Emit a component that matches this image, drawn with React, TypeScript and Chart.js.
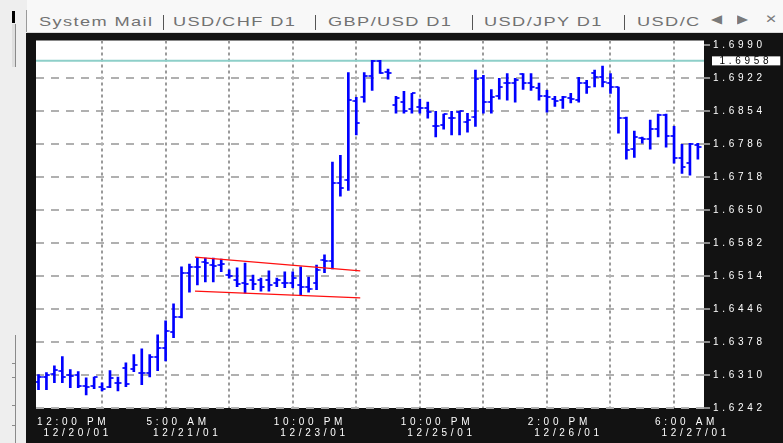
import React, { useEffect, useRef } from 'react';
import { Chart, registerables } from 'chart.js';

Chart.register(...registerables);

// ---- Data (hourly GBP/USD bars) ----
const barOpen = [
  1.6296, 1.6306, 1.6313, 1.6319, 1.6311, 1.6311, 1.6288, 1.6288, 1.6286, 1.6286,
  1.6294, 1.6325, 1.6323, 1.6315, 1.6315, 1.6348, 1.6366, 1.6399, 1.6430, 1.6521,
  1.6533, 1.6543, 1.6537, 1.6537, 1.6516, 1.6506, 1.6500, 1.6506, 1.6506, 1.6506,
  1.6500, 1.6500, 1.6500, 1.6496, 1.6492, 1.6500, 1.6547, 1.6545, 1.6706, 1.6712,
  1.6875, 1.6883, 1.6926, 1.6957, 1.6934, 1.6866, 1.6873, 1.6858, 1.6862, 1.6860,
  1.6823, 1.6825, 1.6840, 1.6852, 1.6831, 1.6842, 1.6922, 1.6873, 1.6885, 1.6912,
  1.6912, 1.6930, 1.6912, 1.6901, 1.6885, 1.6879, 1.6877, 1.6881, 1.6877, 1.6912,
  1.6932, 1.6924, 1.6912, 1.6904, 1.6840, 1.6776, 1.6799, 1.6796, 1.6817, 1.6846,
  1.6803, 1.6757, 1.6747, 1.6784,
];
const barHigh = [
  1.6311, 1.6315, 1.6329, 1.6348, 1.6321, 1.6317, 1.6304, 1.6306, 1.6294, 1.6319,
  1.6306, 1.6335, 1.6352, 1.6364, 1.6352, 1.6393, 1.6422, 1.6457, 1.6533, 1.6539,
  1.6553, 1.6551, 1.6551, 1.6549, 1.6527, 1.6531, 1.6541, 1.6516, 1.6510, 1.6525,
  1.6510, 1.6523, 1.6523, 1.6533, 1.6512, 1.6537, 1.6558, 1.6749, 1.6763, 1.6934,
  1.6883, 1.6934, 1.6959, 1.6959, 1.6941, 1.6885, 1.6895, 1.6891, 1.6879, 1.6873,
  1.6854, 1.6848, 1.6854, 1.6854, 1.6850, 1.6939, 1.6928, 1.6899, 1.6922, 1.6932,
  1.6922, 1.6932, 1.6932, 1.6912, 1.6897, 1.6885, 1.6885, 1.6891, 1.6924, 1.6918,
  1.6939, 1.6947, 1.6932, 1.6904, 1.6842, 1.6813, 1.6801, 1.6836, 1.6848, 1.6848,
  1.6823, 1.6786, 1.6788, 1.6788,
];
const barLow = [
  1.6280, 1.6280, 1.6294, 1.6294, 1.6284, 1.6284, 1.6269, 1.6282, 1.6277, 1.6284,
  1.6277, 1.6286, 1.6317, 1.6290, 1.6306, 1.6319, 1.6339, 1.6387, 1.6428, 1.6481,
  1.6496, 1.6502, 1.6502, 1.6523, 1.6510, 1.6492, 1.6479, 1.6486, 1.6483, 1.6483,
  1.6492, 1.6490, 1.6490, 1.6475, 1.6481, 1.6486, 1.6521, 1.6529, 1.6679, 1.6691,
  1.6805, 1.6873, 1.6897, 1.6932, 1.6920, 1.6850, 1.6850, 1.6850, 1.6850, 1.6840,
  1.6801, 1.6817, 1.6805, 1.6805, 1.6811, 1.6823, 1.6850, 1.6850, 1.6879, 1.6877,
  1.6873, 1.6899, 1.6897, 1.6877, 1.6852, 1.6864, 1.6860, 1.6871, 1.6873, 1.6891,
  1.6904, 1.6904, 1.6891, 1.6809, 1.6755, 1.6759, 1.6788, 1.6776, 1.6801, 1.6780,
  1.6747, 1.6726, 1.6722, 1.6755,
];
const barClose = [
  1.6306, 1.6311, 1.6321, 1.6306, 1.6308, 1.6288, 1.6286, 1.6306, 1.6282, 1.6304,
  1.6294, 1.6292, 1.6331, 1.6315, 1.6348, 1.6366, 1.6401, 1.6430, 1.6521, 1.6533,
  1.6533, 1.6541, 1.6535, 1.6539, 1.6514, 1.6498, 1.6498, 1.6498, 1.6492, 1.6496,
  1.6506, 1.6500, 1.6510, 1.6492, 1.6488, 1.6527, 1.6545, 1.6706, 1.6696, 1.6877,
  1.6829, 1.6926, 1.6957, 1.6932, 1.6932, 1.6881, 1.6854, 1.6891, 1.6860, 1.6852,
  1.6823, 1.6848, 1.6840, 1.6854, 1.6836, 1.6920, 1.6873, 1.6883, 1.6904, 1.6912,
  1.6918, 1.6912, 1.6904, 1.6885, 1.6883, 1.6875, 1.6883, 1.6879, 1.6912, 1.6904,
  1.6924, 1.6914, 1.6904, 1.6840, 1.6774, 1.6801, 1.6796, 1.6817, 1.6846, 1.6803,
  1.6757, 1.6739, 1.6786, 1.6780,
];

const labelBars = [0, 16, 32, 48, 64, 80];
const timeLabels = ['12:00 PM', '5:00 AM', '10:00 PM', '10:00 PM', '2:00 PM', '6:00 AM'];
const dateLabels = ['12/20/01', '12/21/01', '12/23/01', '12/25/01', '12/26/01', '12/27/01'];

const priceTicks = [
  1.6242, 1.6310, 1.6378, 1.6446, 1.6514, 1.6582, 1.6650, 1.6718, 1.6786, 1.6854, 1.6922, 1.6990,
];
const priceTop = 1.7000;
const currentPrice = 1.6958;

// Triangle (pennant) trend lines drawn on the chart
const trendBars = [19.7, 40.5];
const upperTrend = [1.6553, 1.6525];
const lowerTrend = [1.6483, 1.6469];

const tabs = ['System Mail', 'USD/CHF D1', 'GBP/USD D1', 'USD/JPY D1', 'USD/C'];

export default function App() {
  const canvasRef = useRef<HTMLCanvasElement>(null);

  useEffect(() => {
    document.body.style.margin = '0';
    const canvas = canvasRef.current;
    if (!canvas) return;

    const BLUE = '#0000ff';
    const makeTick = (left: boolean) => {
      const c = document.createElement('canvas');
      c.width = 8;
      c.height = 2;
      const g = c.getContext('2d')!;
      g.fillStyle = 'rgba(0,0,255,0.85)';
      g.fillRect(left ? 0.5 : 4, 0, 3.5, 2);
      return c;
    };

    const xMin = -0.315;
    const xMax = 83.77;
    const labelShift = 2.4;
    const firstLabelPos = -0.19;
    const spacing = '3.7px';
    const idx = barOpen.map((_, i) => i);
    const clear = 'rgba(0,0,0,0)';

    const framePlugin = {
      id: 'mtFrame',
      beforeLayout(chart: any) {
        chart.ctx.letterSpacing = spacing;
      },
      beforeDraw(chart: any) {
        const { ctx, chartArea: a, width, height } = chart;
        ctx.save();
        ctx.fillStyle = '#121212';
        ctx.fillRect(0, 0, width, height);
        ctx.fillStyle = '#ffffff';
        ctx.fillRect(a.left, a.top, a.right - a.left, a.bottom - a.top);
        ctx.restore();
        ctx.letterSpacing = spacing;
      },
    };

    const chart = new Chart(canvas, {
      type: 'bar',
      data: {
        datasets: [
          {
            type: 'line',
            data: [
              { x: xMin, y: currentPrice },
              { x: xMax, y: currentPrice },
            ],
            borderColor: '#8ecfc9',
            borderWidth: 2,
            pointRadius: 0,
            order: 5,
          } as any,
          {
            type: 'bar',
            data: idx.map((i) => ({ x: i, y: [barLow[i], barHigh[i]] })),
            backgroundColor: BLUE,
            barThickness: 2,
            order: 3,
          } as any,
          {
            type: 'scatter',
            data: idx.map((i) => ({ x: i, y: barOpen[i] })),
            pointStyle: makeTick(true),
            pointRadius: 3,
            order: 2,
          } as any,
          {
            type: 'scatter',
            data: idx.map((i) => ({ x: i, y: barClose[i] })),
            pointStyle: makeTick(false),
            pointRadius: 3,
            order: 2,
          } as any,
          {
            type: 'line',
            data: trendBars.map((b, k) => ({ x: b, y: upperTrend[k] })),
            borderColor: '#ff1010',
            borderWidth: 1.3,
            pointRadius: 0,
            order: 1,
          } as any,
          {
            type: 'line',
            data: trendBars.map((b, k) => ({ x: b, y: lowerTrend[k] })),
            borderColor: '#ff1010',
            borderWidth: 1.3,
            pointRadius: 0,
            order: 1,
          } as any,
        ],
      },
      options: {
        responsive: false,
        animation: false,
        events: [],
        layout: { padding: { left: 10, top: 7, right: 0, bottom: 0 } },
        plugins: { legend: { display: false }, tooltip: { enabled: false } },
        scales: {
          x: {
            type: 'linear',
            position: 'bottom',
            min: xMin,
            max: xMax,
            offset: false,
            afterBuildTicks: (s: any) => {
              const t: any[] = [];
              for (let v = 8; v <= 80; v += 8) t.push({ value: v });
              s.ticks = t;
            },
            afterFit: (s: any) => {
              s.height = 0;
            },
            ticks: { display: false },
            grid: { color: '#9a9a9a', lineWidth: 2, drawTicks: false, offset: false },
            border: { display: false, dash: [3, 3] },
          },
          x2: {
            type: 'linear',
            position: 'bottom',
            min: xMin,
            max: xMax,
            offset: false,
            afterBuildTicks: (s: any) => {
              s.ticks = labelBars.map((b, k) => ({ value: k === 0 ? firstLabelPos : b - labelShift }));
            },
            afterFit: (s: any) => {
              s.height = 35;
            },
            grid: { display: false, drawTicks: false },
            border: { display: false },
            ticks: {
              autoSkip: false,
              maxRotation: 0,
              minRotation: 0,
              align: 'start',
              padding: 9,
              color: '#ffffff',
              font: { family: 'Liberation Sans', size: 10, lineHeight: 1.1 },
              callback: (_v: any, k: number) => [timeLabels[k], ' ' + dateLabels[k]],
            },
          },
          y: {
            type: 'linear',
            position: 'right',
            min: priceTicks[0],
            max: priceTop,
            beginAtZero: false,
            afterBuildTicks: (s: any) => {
              s.ticks = [...priceTicks, currentPrice].sort((a, b) => a - b).map((v) => ({ value: v }));
            },
            afterFit: (s: any) => {
              s.width = 79;
            },
            grid: {
              color: (c: any) =>
                c.tick && (c.tick.value === currentPrice || c.tick.value === priceTicks[priceTicks.length - 1])
                  ? clear
                  : '#b0b0b0',
              lineWidth: 2,
              drawTicks: true,
              tickLength: 6,
              tickWidth: 1,
              tickColor: (c: any) => (c.tick && c.tick.value === currentPrice ? clear : '#ffffff'),
              tickBorderDash: [],
            },
            border: { display: false, dash: [8, 7] },
            ticks: {
              autoSkip: false,
              padding: 3,
              color: (c: any) => (c.tick && c.tick.value === currentPrice ? '#000000' : '#ffffff'),
              font: { family: 'Liberation Sans', size: 10, lineHeight: 0.9 },
              callback: (v: any) => (v === currentPrice ? ' ' : '') + Number(v).toFixed(4),
              showLabelBackdrop: true,
              backdropColor: (c: any) => (c.tick && c.tick.value === currentPrice ? '#ffffff' : clear),
              backdropPadding: { top: 0, bottom: 0, left: 1, right: 8 },
            },
          },
        },
      } as any,
      plugins: [framePlugin],
    });

    return () => chart.destroy();
  }, []);

  const tabLeft = [39, 173, 328, 484, 637];
  const sepLeft = [163, 315, 472, 624];
  const textStyle: React.CSSProperties = {
    position: 'absolute',
    top: 14,
    fontFamily: 'Liberation Sans',
    fontSize: 13,
    lineHeight: '16px',
    letterSpacing: 1,
    color: '#727272',
    whiteSpace: 'nowrap',
    transform: 'scaleX(1.4)',
    transformOrigin: 'left top',
  };
  const iconStyle: React.CSSProperties = {
    position: 'absolute',
    top: 12,
    fontFamily: 'DejaVu Sans',
    fontSize: 12,
    lineHeight: '14px',
    color: '#7a7a7a',
    transform: 'scaleX(1.2)',
    transformOrigin: 'left top',
  };

  return (
    <div
      style={{
        position: 'relative',
        width: 783,
        height: 443,
        overflow: 'hidden',
        background: '#eeeeee',
      }}
    >
      <div
        style={{
          position: 'absolute',
          left: 27,
          top: 0,
          width: 756,
          height: 32,
          background: '#f8f8f8',
          borderBottom: '1px solid #d8d8d8',
        }}
      />
      <div style={{ position: 'absolute', left: 12, top: 11, width: 3, height: 12, background: '#000' }} />
      <div style={{ position: 'absolute', left: 26, top: 10, width: 1, height: 22, background: '#9a9a9a' }} />
      <div
        style={{
          position: 'absolute',
          left: 12,
          top: 24,
          width: 3,
          height: 43,
          background: '#dedede',
          borderRight: '1px solid #8a8a8a',
        }}
      />
      <div style={{ position: 'absolute', left: 15, top: 335, width: 1, height: 108, background: '#8a8a8a' }} />
      {[363, 377, 405, 425].map((t) => (
        <div key={t} style={{ position: 'absolute', left: 12, top: t, width: 3, height: 1, background: '#8a8a8a' }} />
      ))}
      {tabs.map((t, i) => (
        <span key={t} style={{ ...textStyle, left: tabLeft[i] }}>
          {t}
        </span>
      ))}
      {sepLeft.map((x) => (
        <div key={x} style={{ position: 'absolute', left: x, top: 15, width: 1, height: 15, background: '#555' }} />
      ))}
      <span style={{ ...iconStyle, left: 711 }}>◀</span>
      <span style={{ ...iconStyle, left: 737 }}>▶</span>
      <span style={{ ...iconStyle, left: 765 }}>✕</span>
      <div style={{ position: 'absolute', left: 26, top: 33, width: 757, height: 410 }}>
        <canvas ref={canvasRef} width={757} height={410} style={{ display: 'block' }} />
      </div>
    </div>
  );
}
